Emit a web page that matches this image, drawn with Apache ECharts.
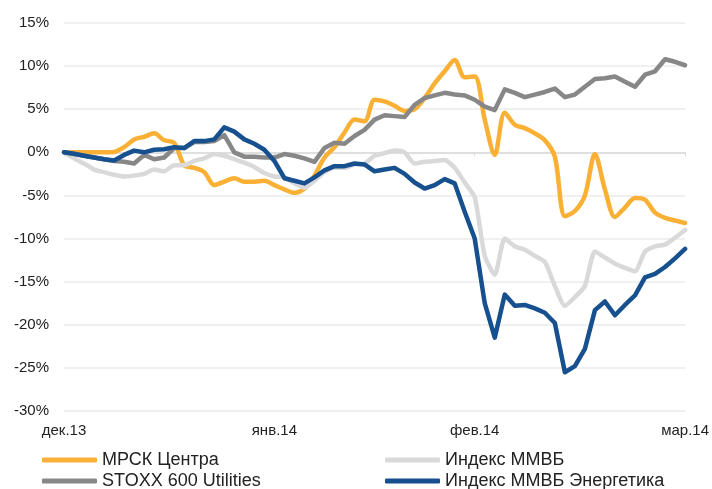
<!DOCTYPE html>
<html>
<head>
<meta charset="utf-8">
<script src="https://cdn.jsdelivr.net/npm/echarts@6/dist/echarts.min.js"></script>
<style>
  html, body { margin: 0; padding: 0; background: #fff; }
  #main { width: 712px; height: 489px; }
</style>
</head>
<body>
<div id="main"></div>
<script>
// trading-day index, labels only at month starts
var tickLabels = ['дек.13', 'янв.14', 'фев.14', 'мар.14'];
var tickIndex = [0, 21, 41, 62];

var mrsk = [0, 0, 0, 0, 0, 0.05, 0.6, 1.5, 1.8, 2.2,
  1.4, 1.1, -1.5, -1.8, -2.3, -3.8, -3.4, -3.0, -3.4, -3.4,
  -3.3, -3.8, -4.3, -4.7, -4.2, -2.7, -0.6, 0.6, 2.3, 3.8,
  3.6, 6.1, 5.9, 5.4, 4.8, 5.0, 6.3, 8.0, 9.4, 10.7,
  8.7, 8.8, 3.8, -0.3, 4.6, 3.2, 2.8, 2.2, 1.4, -0.5,
  -7.4, -6.8, -5.0, -0.2, -4.3, -7.5, -6.4, -5.3, -5.5, -7.0,
  -7.6, -7.9, -8.2];

var micex = [0, -0.7, -1.3, -2.0, -2.3, -2.6, -2.8, -2.7, -2.5, -2.0,
  -2.2, -1.5, -1.5, -1.0, -0.7, -0.2, -0.4, -0.8, -1.2, -1.7,
  -2.4, -2.8, -2.9, -3.6, -4.1, -3.3, -2.3, -1.8, -1.8, -1.4,
  -1.3, -0.4, -0.1, 0.2, 0.0, -1.3, -1.1, -1.0, -0.9, -1.8,
  -3.5, -5.2, -12.0, -14.2, -10.0, -10.9, -11.3, -12.0, -12.7, -15.5,
  -17.8, -16.8, -15.5, -11.5, -12.2, -12.9, -13.4, -13.8, -11.5, -10.9,
  -10.7, -9.9, -9.0];

var stoxx = [0, -0.2, -0.4, -0.6, -0.8, -1.0, -1.1, -1.3, -0.3, -0.8,
  -0.6, 0.5, 0.5, 1.2, 1.2, 1.3, 2.0, 0.0, -0.5, -0.5,
  -0.6, -0.6, -0.2, -0.4, -0.7, -1.1, 0.5, 1.1, 1.0, 1.9,
  2.6, 3.8, 4.3, 4.2, 4.1, 5.5, 6.3, 6.6, 6.9, 6.7,
  6.6, 6.1, 5.3, 4.9, 7.3, 6.9, 6.4, 6.7, 7.0, 7.4,
  6.4, 6.7, 7.6, 8.5, 8.6, 8.8, 8.2, 7.6, 9.0, 9.4,
  10.8, 10.5, 10.1];

var micexPower = [0, -0.17, -0.4, -0.6, -0.8, -0.95, -0.3, 0.2, 0.0, 0.3,
  0.35, 0.6, 0.5, 1.3, 1.3, 1.5, 2.9, 2.4, 1.5, 1.0,
  0.3, -1.0, -3.0, -3.3, -3.6, -2.9, -2.1, -1.6, -1.6, -1.3,
  -1.4, -2.2, -2.0, -1.8, -2.5, -3.5, -4.2, -3.8, -3.1, -3.6,
  -6.9, -10.0, -17.5, -21.5, -16.5, -17.8, -17.7, -18.1, -18.6, -19.8,
  -25.5, -24.8, -22.8, -18.3, -17.3, -18.9, -17.7, -16.6, -14.5, -14.1,
  -13.3, -12.3, -11.2];

var categories = [];
for (var i = 0; i < mrsk.length; i++) {
  var k = tickIndex.indexOf(i);
  categories.push(k >= 0 ? tickLabels[k] : '');
}

var font = "'Liberation Sans', Arial, sans-serif";
var showTick = function (idx) { return tickIndex.indexOf(idx) >= 0; };

function legendItem(name, left, top) {
  return {
    left: left, top: top,
    itemWidth: 55, itemHeight: 5, icon: 'roundRect',
    textStyle: { fontSize: 18, fontFamily: font, color: '#222' },
    data: [name]
  };
}

var myChart = echarts.init(document.getElementById('main'));
var option = {
  animation: false,
  backgroundColor: '#fff',
  grid: { left: 64, right: 24, top: 23, bottom: 78 },
  legend: [
    legendItem('МРСК Центра', 37, 446),
    legendItem('STOXX 600 Utilities', 37, 467),
    legendItem('Индекс ММВБ', 380, 446),
    legendItem('Индекс ММВБ Энергетика', 380, 467)
  ],
  xAxis: [{
    type: 'category',
    data: categories,
    boundaryGap: false,
    axisLine: { onZero: true, lineStyle: { color: '#d9d9d9', width: 1.5 } },
    axisTick: { show: true, interval: showTick, length: 4, lineStyle: { color: '#d9d9d9' } },
    axisLabel: { show: false },
    splitLine: { show: false }
  }, {
    type: 'category',
    data: categories,
    boundaryGap: false,
    position: 'bottom',
    axisLine: { show: false, onZero: false },
    axisTick: { show: false },
    axisLabel: {
      interval: showTick, margin: 12,
      fontSize: 15, fontFamily: font, color: '#222',
      showMinLabel: true, showMaxLabel: true
    }
  }],
  yAxis: {
    type: 'value',
    min: -30, max: 15, interval: 5,
    axisLine: { show: false },
    axisTick: { show: false },
    axisLabel: { formatter: '{value}%', fontSize: 15, fontFamily: font, color: '#222', margin: 15 },
    splitLine: { lineStyle: { color: '#ebebeb', width: 1.5 } }
  },
  series: [
    { name: 'МРСК Центра', type: 'line', data: mrsk, smooth: 0.3, showSymbol: false,
      color: '#FAB034', lineStyle: { width: 4.5, cap: 'round', join: 'round' } },
    { name: 'Индекс ММВБ', type: 'line', data: micex, smooth: 0.2, showSymbol: false,
      color: '#D9D9D9', lineStyle: { width: 4.5, cap: 'round', join: 'round' } },
    { name: 'STOXX 600 Utilities', type: 'line', data: stoxx, showSymbol: false,
      color: '#878787', lineStyle: { width: 4.5, cap: 'round', join: 'round' } },
    { name: 'Индекс ММВБ Энергетика', type: 'line', data: micexPower, showSymbol: false,
      color: '#17508F', lineStyle: { width: 4.5, cap: 'round', join: 'round' } }
  ]
};
myChart.setOption(option);
</script>
</body>
</html>
